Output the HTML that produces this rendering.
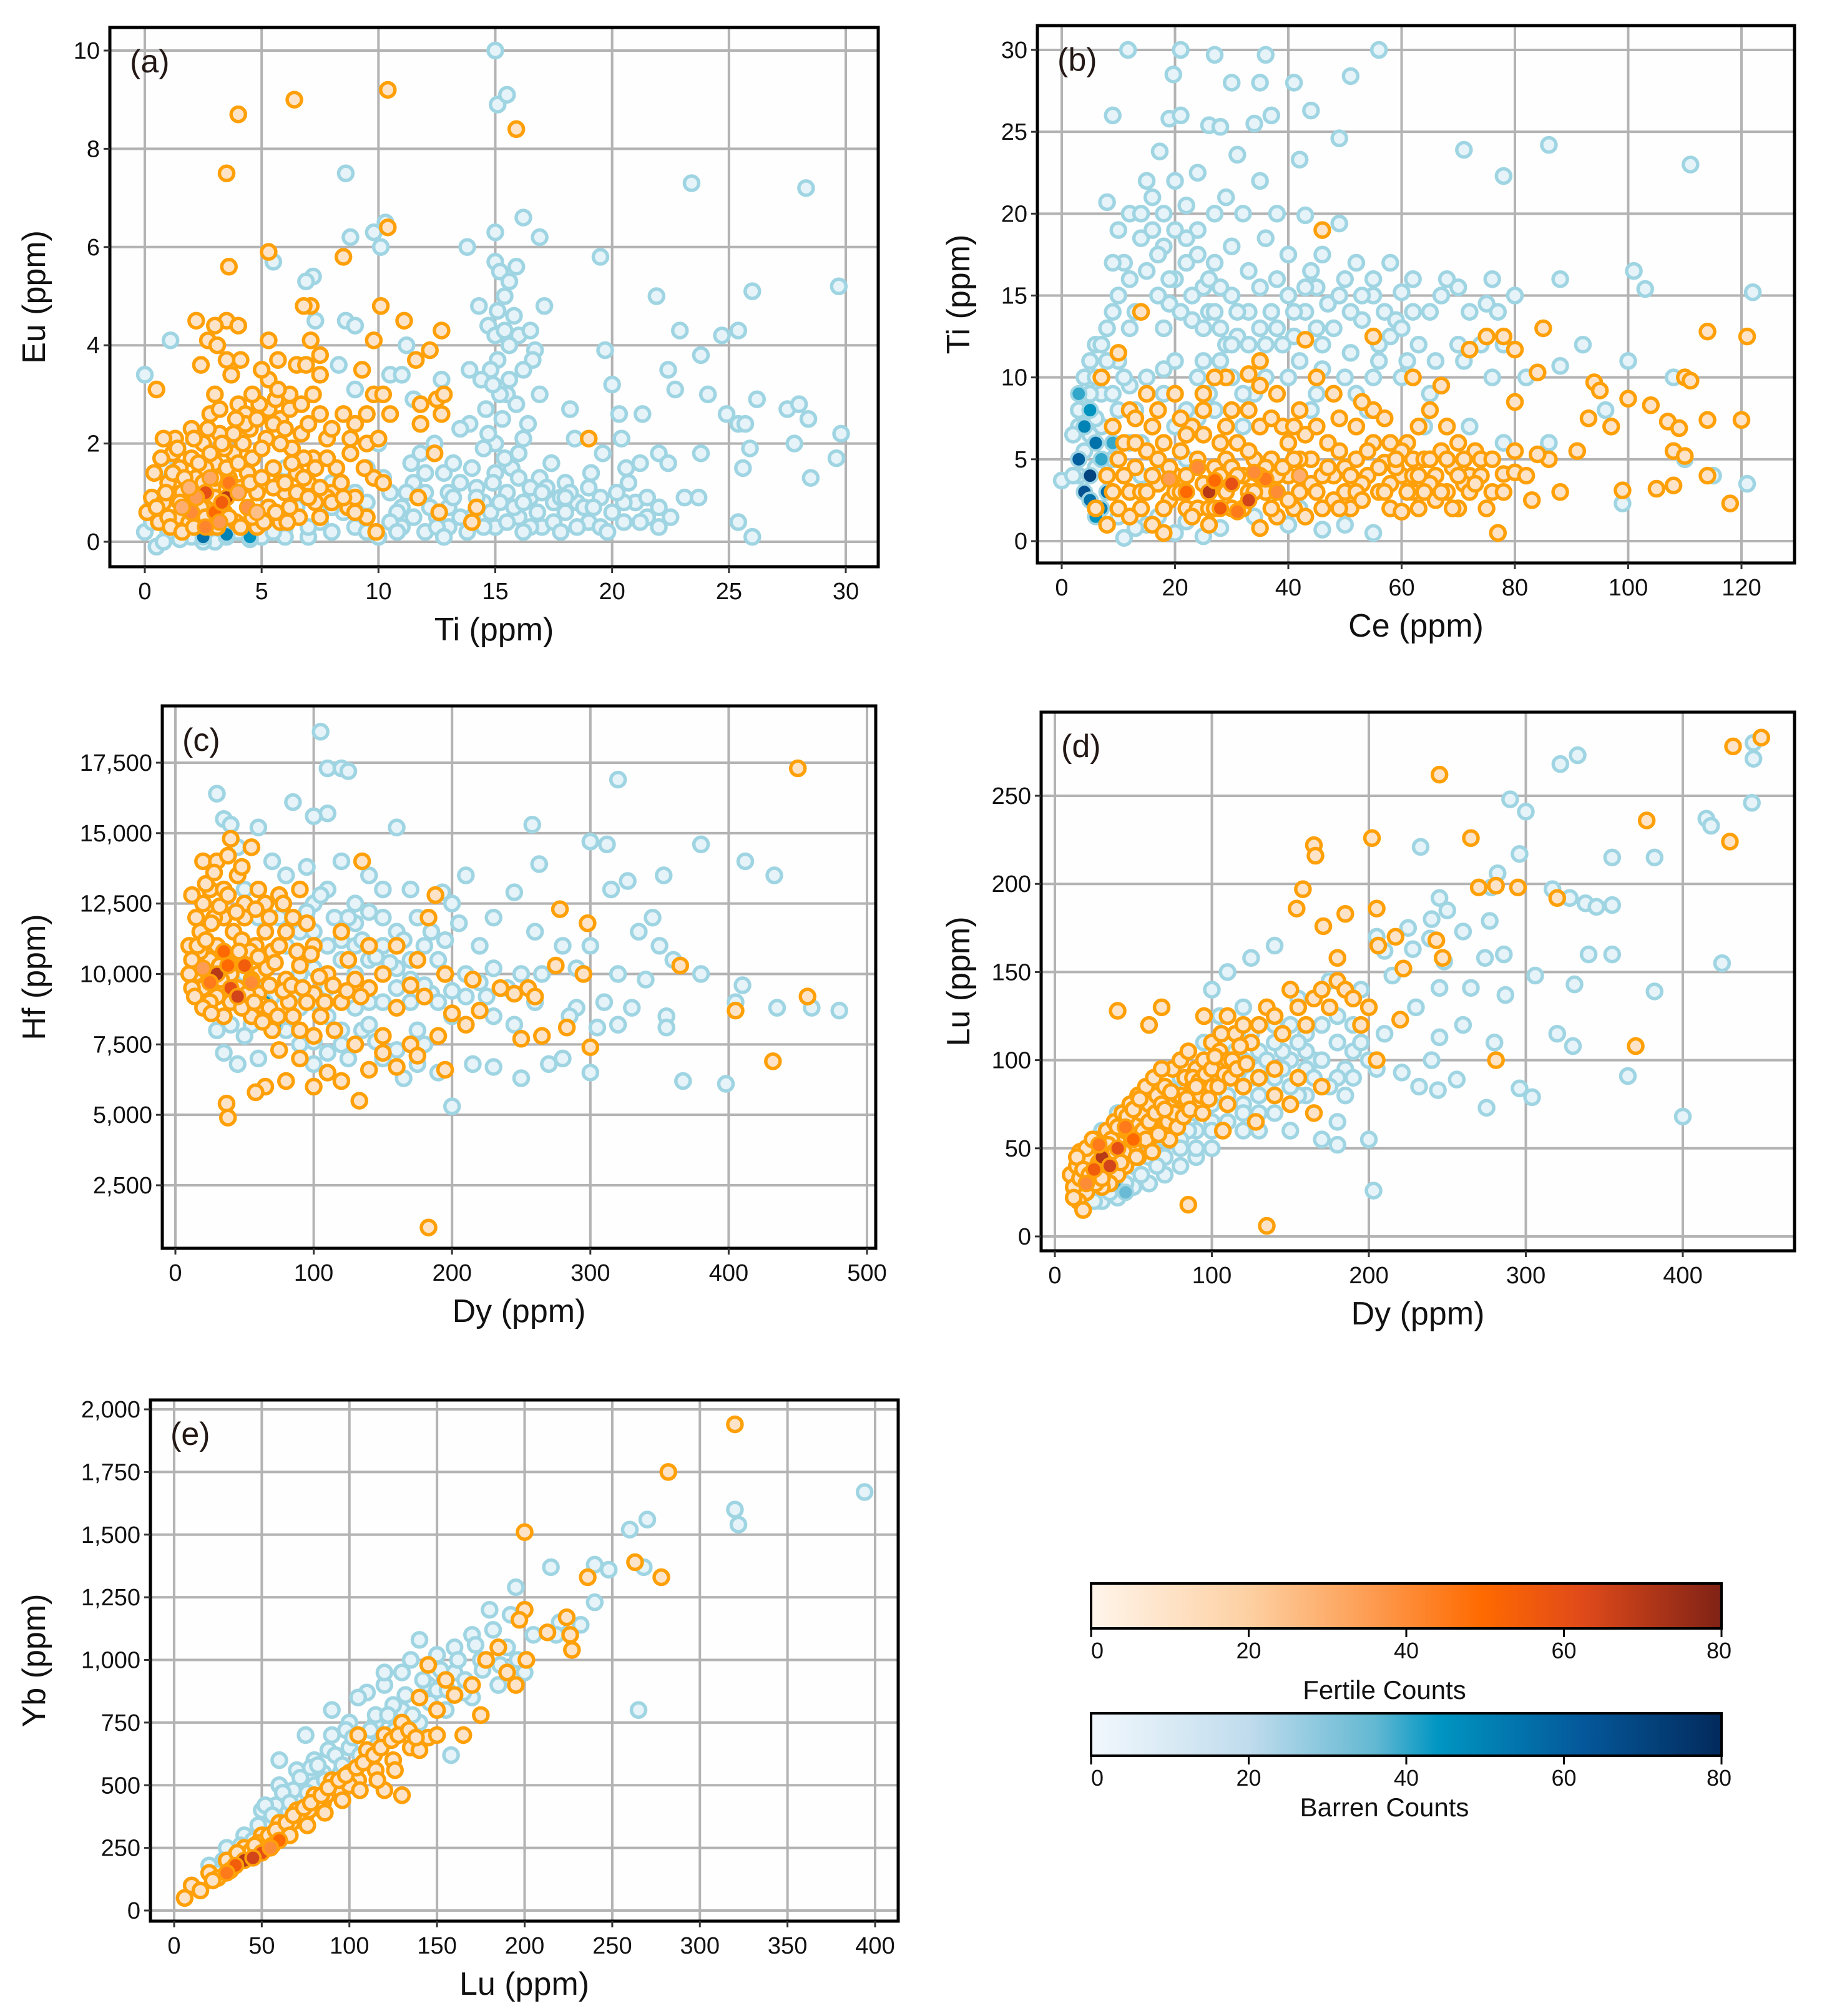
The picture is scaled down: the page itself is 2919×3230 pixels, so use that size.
<!DOCTYPE html>
<html><head><meta charset="utf-8">
<style>
html,body{margin:0;padding:0;background:#fff;}
svg{display:block;}
text{font-family:"Liberation Sans Narrow","Liberation Sans",sans-serif;}
.ax{font-family:"Liberation Sans",sans-serif;}
</style></head>
<body>
<svg id="fig" width="2919" height="3230" viewBox="0 0 2919 3230" xmlns="http://www.w3.org/2000/svg">
<defs>
<linearGradient id="gFert" x1="0" x2="1" y1="0" y2="0">
<stop offset="0" stop-color="#fff5eb"/><stop offset="0.25" stop-color="#fdd0a2"/><stop offset="0.45" stop-color="#fd9a4e"/><stop offset="0.62" stop-color="#ff6a00"/><stop offset="0.78" stop-color="#e04a1a"/><stop offset="1" stop-color="#7f2216"/>
</linearGradient>
<linearGradient id="gBarr" x1="0" x2="1" y1="0" y2="0">
<stop offset="0" stop-color="#f2f8fd"/><stop offset="0.25" stop-color="#c0dced"/><stop offset="0.45" stop-color="#63b8d2"/><stop offset="0.55" stop-color="#0096c2"/><stop offset="0.78" stop-color="#04589a"/><stop offset="1" stop-color="#032a5c"/>
</linearGradient>
</defs>
</svg>
<script>
// ---------- data arrays (flat x,y pairs) ----------
const aBarren=[15,10,15.1,8.9,15.5,9.1,8.6,7.5,23.4,7.3,28.3,7.2,16.2,6.6,10.3,6.5,15,6.3,9.8,6.3,10.1,6,8.8,6.2,16.9,6.2,13.8,6,19.5,5.8,5.5,5.7,15,5.7,15.2,5.5,15.6,5.3,7.2,5.4,6.9,5.3,15.9,5.6,29.7,5.2,26,5.1,21.9,5,15.4,5,17.1,4.8,14.3,4.8,7.3,4.5,8.6,4.5,9.0,4.4,14.7,4.4,15.8,4.6,16,4.2,16.5,4.3,25.4,4.3,24.7,4.2,22.9,4.3,23.8,3.8,1.1,4.1,11.2,4.0,15.6,4.0,16.7,3.9,19.7,3.9,0,3.4,8.3,3.6,15.1,3.7,16.6,3.7,14.8,3.5,13.9,3.5,16.2,3.5,22.4,3.5,12.7,3.3,10.5,3.4,11.0,3.4,14.4,3.3,22.7,3.1,20,3.2,16.9,3.0,24.1,3.0,9,3.1,15.5,3.0,11.5,2.9,26.2,2.9,27.5,2.7,28,2.8,20.3,2.6,21.3,2.6,24.9,2.6,25.4,2.4,25.7,2.4,28.4,2.5,18.2,2.7,13.9,2.4,13.5,2.3,16.4,2.4,29.8,2.2,20.4,2.1,19.6,1.8,18.4,2.1,27.8,2.0,25.9,1.9,22,1.8,23.8,1.8,21.2,1.6,22.4,1.6,29.6,1.7,20.6,1.5,25.6,1.5,28.5,1.3,20.7,1.2,23.1,0.9,23.7,0.9,25.4,0.4,26,0.1,0.9,1.5,11.4,1.6,12.8,1.4,14,1.5,15,1.4,16.9,1.3,17.4,1.6,18,1.2,19.1,1.4,14.2,1.1,12,1.0,10.5,1.0,11,0.7,13,0.7,14,0.5,15,0.3,16,0.5,17,0.3,18,0.6,19,0.4,20,0.6,21,0.8,22,0.7,19.5,0.9,18.5,0.8,16.5,0.9,12,0.2,13,0.3,10,0.1,9,0.3,8,0.2,7,0.1,6,0.3,5,0.1,4,0.2,3,0,2,0.1,1,0.2,0,0.2,0.5,-0.1,11,0.3,12.5,0.5,14.5,0.8,15.5,1.0,17.5,0.8,13.5,1.2,10,2.0,9.5,1.5,8,1.2,6,1.5,5,0.5,15,2.0,15.3,2.5,16,1.8,14.5,1.9,15.7,1.5,16.5,1.1,17.8,0.9,18.8,0.7,20.5,0.4,21.5,0.5,12,1.4,11.5,1.2,13,1.0,14.8,0.6,15.8,0.7,16.8,0.6,10.8,0.6,9.5,0.8,8.5,0.6,7.5,0.4,6.5,0.7,
10.5,0.4,11.5,0.5,12.5,0.3,13.5,0.5,14.5,0.3,15.5,0.4,16.5,0.3,17.5,0.4,18.5,0.3,19.5,0.3,20.5,0.8,21.5,0.9,22.5,0.5,10.2,1.3,11.2,1.0,12.2,0.7,13.2,0.9,14.2,0.9,15.2,0.8,16.2,0.8,17.2,1.1,18.2,1.0,19.2,0.7,20.2,1.0,14.9,1.2,15.4,1.7,14.7,2.2,15.2,3.0,15.0,4.2,14.9,3.2,15.6,3.3,15.9,2.8,16.2,2.1,14.6,2.7,15.1,4.7,15.4,4.3,16.0,1.3,17.0,1.0,18.0,0.9,19.0,1.1,11.8,1.8,12.4,2.0,13.2,1.6,9.0,1.0,8.0,0.7,7.0,0.3,6.0,0.1,5.5,0.2,4.5,0.05,3.5,0.1,2.5,0,1.5,0.05,0.3,0.4,0.8,0.0,9.5,0.2,10.8,0.2,12.8,0.1,13.8,0.2,16.2,0.2,17.8,0.2,19.8,0.2,21.2,0.4,22.0,0.3];
const aFertile=[10.4,9.2,6.4,9.0,4,8.7,15.9,8.4,3.5,7.5,3.6,5.6,10.4,6.4,5.3,5.9,8.5,5.8,10.1,4.8,7.1,4.8,6.8,4.8,11.1,4.5,2.2,4.5,3.5,4.5,3,4.4,4,4.4,12.7,4.3,2.7,4.1,5.3,4.1,7.1,4.1,9.8,4.1,12.2,3.9,3.1,4.0,4.1,3.7,5.7,3.7,2.4,3.6,3.5,3.7,6.5,3.6,6.9,3.6,7.5,3.8,11.6,3.7,3.7,3.4,7.5,3.4,9.3,3.5,0.5,3.1,5.3,3.3,6.2,3.0,7.2,3.0,9.8,3.0,10.2,3.0,12.5,2.9,12.8,3.0,3,3.0,11.8,2.8,10.5,2.6,12.7,2.6,8.5,2.6,9.5,2.6,7.5,2.6,4,2.8,4.3,2.6,2.8,2.6,5,2.6,5.8,2.5,11.8,2.4,9,2.4,2,2.3,1.3,2.1,0.8,2.1,19,2.1,12.4,1.8,8.8,2.1,9.5,2.0,10,2.1,7.8,2.1,6.3,1.9,7.2,1.7,8.2,1.5,9.8,1.3,10.2,1.2,11.7,0.9,12.6,0.6,14.2,0.7,14,0.4,9.5,0.5,9.9,0.2,8.7,0.7,7.5,0.5,6.6,0.5,5.8,0.4,4.8,0.3,2.8,0.3,0.1,0.6,0.3,0.9,0.8,0.8,1.5,1.5,2.5,2.0,3.2,2.2,4.5,2.3,5.2,2.1,5.5,1.5,6,1.0,7,1.2,8,1.0,9,0.9,1,1.2,1.8,0.8,2.2,1.3,3,1.6,3.8,1.8,4.4,1.4,4.8,1.0,3.4,0.6,2.4,0.7,1.4,0.5,0.6,0.4,3.9,0.4,5.3,0.7,6.5,1.4,7.8,0.9,2,1.7,1.2,1.8,4.2,2.0,5.5,2.4,6.7,2.2,0.4,1.4,2.9,1.1,3.6,1.3,1.6,1.0,2.6,1.5,3.4,1.9,4.6,1.7,5.8,1.2,6.2,0.7,7.3,0.8,8.4,1.2,4.1,1.1,1.9,0.4,0.9,1.0,3.0,0.9,5.0,1.9,6.0,2.3,6.8,1.7,
0.5,0.7,1.0,0.5,1.5,0.8,2.0,1.0,2.5,1.2,3.0,1.3,3.5,1.5,4.0,1.6,4.5,1.2,5.0,1.3,5.5,1.1,6.0,1.2,6.5,1.0,7.0,0.9,7.5,1.1,8.0,0.8,8.5,0.9,9.0,0.6,1.2,1.4,1.7,1.3,2.3,1.6,2.8,1.8,3.3,2.0,3.8,2.2,4.3,2.4,4.8,2.5,5.3,2.7,5.8,2.0,6.3,1.6,6.8,1.3,7.3,1.5,7.8,1.7,1.1,0.3,1.6,0.2,2.1,0.3,2.6,0.5,3.1,0.3,3.6,0.5,4.1,0.3,4.6,0.5,5.1,0.4,5.6,0.6,6.1,0.4,0.7,1.7,1.4,1.9,2.1,2.1,2.7,2.3,3.9,2.5,4.9,2.8,5.6,2.9,6.2,2.7,7.0,2.4,8.0,2.3,8.8,1.8,9.4,1.5,3.2,2.7,4.6,3.0,5.0,3.5,5.7,3.1,6.7,2.8];
const aDense=[2.6,1.0,60, 3.5,0.9,70, 2.0,0.6,40, 3.0,0.6,50, 3.6,1.2,45, 2.2,0.9,35, 4.4,0.7,38, 2.6,0.3,42, 3.2,0.4,36, 1.6,0.7,30, 2.8,1.3,32, 4.0,1.0,30, 1.9,1.1,28, 3.3,0.8,55, 4.8,0.6,25];
const aDenseB=[2.5,0.1,55, 3.5,0.15,50, 4.5,0.1,45];

const bBarren=[11.7,30,21,30,27,29.7,36,29.7,56,30,19.7,28.5,30,28,35,28,41,28,51,28.4,9,26,19,25.8,21,26,26,25.4,28,25.3,34,25.5,37,26,44,26.3,49,24.6,86,24.2,71,23.9,111,23,17.3,23.8,31,23.6,42,23.3,78,22.3,15,22,20,22,24,22.5,29,21,35,22,8,20.7,12,20,16,21,22,20.5,27,20,32,20,38,20,43,19.9,49,19.4,10,19,14,18.5,18,18,24,19,30,18,36,18.5,40,17.5,46,17.5,52,17,58,17,62,16,68,16,76,16,88,16,101,16.5,103,15.4,122,15.2,11,17,15,16.5,20,16,25,15.5,30,15,35,15.5,40,15,45,15.5,50,16,55,15,60,15.2,65,14,70,15.5,75,14.5,80,15,9,14,13,14,18,13,23,13.5,28,13,33,14,38,13,43,14,48,13,53,13.5,58,12.5,63,12,70,12,74,12,78,12,92,12,100,11,108,10,82,10,88,10.7,96,8,115,4,121,3.5,110,5,99,2.3,6,12,5,11,4,10,7,9,10,11,15,10,20,11,25,11,30,10,35,11,40,10,45,9,50,10,55,10,60,10,65,9,7,7,3,7,2,6.5,14,6,22,8,27,8,32,7,12,3,15,1,20,0.5,25,0.3,11,0.2,8,4,38,3,42,2,50,1,55,0.5,0,3.7,17,4,13,8,9,5,12,16,17,17.5,22,17,27,17,33,16.5,38,16,44,16.5,9,17,12,13,19,14.5,26,14,31,12.5,36,12,41,12.5,46,12,51,11.5,56,11,61,11,66,11,71,11,76,10,8,11,12,9.5,18,9,24,10,34,9,44,8,54,8,64,7,72,7,78,6,86,6,
14,20,16,19,18,20,20,19,22,18.5,24,17.5,26,16,28,15.5,17,15,19,16,21,14,23,15,25,13,27,14,29,12,31,14,33,12,35,13,37,14,39,12,41,14,43,15.5,45,13,47,14.5,49,15,51,14,53,15,55,16,57,14,59,13.5,67,15,72,14,77,14,10,15,8,13,7,12,6,10,5,9,4,8,3,8,6,7.5,5,6.5,4,5.5,3,4,2,4,6,4.5,9,9,10,8,11,10,12,6,14,4,16,7,18,10.5,20,7,22,5,24,7.5,26,9,28,11,30,12,32,9,36,10,42,11,46,10.5,52,9,56,12,60,13,62,14,10,1.5,13,0.8,17,1.5,22,1.2,28,0.8,34,1.5,40,1,46,0.7];
const bFertile=[46,19,114,12.8,121,12.5,85,13,78,12.5,75,12.5,72,11.7,80,11.7,55,12.5,14,14,35,11,43,12.3,84,10.3,62,10,33,10.2,29,10,7,10,10,11.5,80,8.5,94,9.7,95,9.2,110,10,111,9.8,100,8.7,104,8.3,107,7.3,109,6.9,108,5.5,110,5.2,99,3.1,105,3.2,114,4,118,2.3,108,3.4,120,7.4,114,7.4,93,7.5,97,7,91,5.5,88,3,86,5,84,5.3,83,2.5,78,4.1,80,4.2,77,0.5,73,5.5,70,6,68,7,67,9.5,65,8,62,5,58,6,55,8,52,7,48,9,45,10,42,8,40,6,38,9,35,7,30,8,25,9,20,9,15,9,12,8,9,7,8,4,10,5,12,3,14,2,16,1,18,6,20,4,22,2,24,5,26,3,28,6,30,2,32,4,34,5,36,3,38,1.5,40,4,42,3,44,5,46,2,48,4,50,3,52,5,54,4,56,3,58,2,60,4,62,3,64,5,66,4,68,3,70,2,72,4,74,5,76,3,6,2,8,1,18,0.5,26,1,35,0.8,60,1.8,65,3.5,57,4.8,47,6,37,5,27,4.5,17,3.5,11,6,13,4.5,15,5.5,16,7,19,2.5,21,5.5,23,7,25,6.5,29,5,31,6,33,3,39,7,41,2,43,6.5,49,5.5,51,2,53,3.5,55,6,59,4.5,61,6,63,2,67,5.5,69,4.5,71,3.5,
10,2,12,1.5,14,3,16,4,18,2,20,3,22,4,24,2,26,2,28,4,30,4.5,32,2,34,3,36,4.5,38,4,40,2.5,42,5,44,3.5,46,4,48,2.5,50,4.5,52,3,54,5.5,56,4.5,58,3.5,60,5.5,62,4,64,3,66,2.5,68,5,70,4,72,3,74,4,76,5,78,3,80,5.5,82,4,9,3,11,4,13,6,15,3,17,5,19,4.5,21,3,23,1.5,25,3.5,27,2,29,3,31,4,33,5.5,35,4,37,2,39,4.5,41,5,43,1.5,45,3,47,4.5,49,2,51,4,53,2.5,57,3,59,5,61,3,63,4,65,5,67,3,69,2,71,5,73,3.5,75,2,13,7.5,17,8,21,7.5,25,8,29,7,33,8,37,7.5,41,7,45,7,49,7.5,53,8.5,57,7.5,63,7,35,9.5,27,10,22,6.5];
const bDense=[26,3,70, 30,3.5,60, 33,2.5,65, 28,2,55, 22,3,50, 36,3.8,45, 24,4.5,40, 31,1.8,45, 38,3,40, 19,3.8,35, 42,4,30, 27,3.7,50, 34,4.2,40];
const bDenseB=[3,5,60, 5,4,70, 6,6,55, 4,3,65, 7,2,50, 5,8,45, 3,9,40, 8,3,55, 6,1.5,45, 4,7,50, 9,6,40, 5,2.5,55, 7,5,40];

const cBarren=[105,18600,110,17300,120,17300,125,17200,320,16900,85,16100,30,16400,35,15500,40,15300,110,15700,160,15200,258,15300,100,15600,60,15200,300,14700,312,14600,380,14600,412,14000,263,13900,210,13500,353,13500,433,13500,315,13000,327,13300,245,12900,193,12900,70,14000,80,13500,120,14000,140,13500,170,13000,200,12500,230,12000,150,12000,100,12500,60,12000,90,11500,130,11000,180,11000,220,11000,260,11500,280,11000,300,11000,335,11500,345,12000,350,11000,360,10500,340,9800,320,10000,290,10200,250,10000,210,10000,170,10500,130,10000,90,10000,50,10000,40,9000,70,8500,110,8500,140,9000,170,9000,200,8500,230,8500,260,9000,290,8800,310,9000,330,8800,355,8500,380,10000,410,9600,435,8800,460,8800,480,8700,405,9000,320,8200,305,8100,355,8100,270,6800,250,6300,200,5300,230,6700,215,6800,300,6500,367,6200,398,6100,180,7500,150,7000,120,7500,90,7500,60,7000,35,7200,30,8000,45,6800,100,6800,165,6300,190,6500,280,7000,285,8500,265,10000,240,9500,120,9000,25,10000,20,11000,50,13000,80,11000,110,13000,130,12500,150,13000,160,11500,190,10500,205,11800,225,9200,245,8200,175,8000,160,9500,140,10500,120,11200,100,10200,85,9200,65,9500,55,8200,75,12000,95,13800,45,14500,115,12000,135,8000,185,9300,
100,11500,110,11000,120,10500,130,11800,140,12200,150,11000,160,10200,170,9800,180,9600,190,9000,200,9400,210,9200,220,9700,230,10200,150,9000,140,8200,130,8800,120,8000,110,9500,100,9000,90,8800,80,8000,70,9200,60,8600,50,7800,40,8200,100,7600,110,7200,125,7000,145,7600,160,7300,175,6800,95,12200,105,12800,125,12000,135,11200,145,10600,155,10400,165,11200,175,12000,185,11500,195,11200];
const cFertile=[450,17300,40,14800,55,14500,20,14000,30,14000,45,13500,60,13000,75,12800,90,13000,135,14000,188,12800,183,12000,278,12300,298,11800,20,12500,35,12000,50,12000,65,11500,80,11500,100,11000,120,11500,140,11000,160,11000,175,10500,195,10000,215,9800,235,9500,255,9500,275,10300,295,10000,260,9200,245,9300,365,10300,457,9200,220,8700,200,8600,180,9200,160,8800,140,9500,120,9000,100,9300,80,9800,60,10000,40,10000,25,10500,15,10000,20,9500,30,9200,45,9500,55,8500,70,8000,85,8500,100,7800,115,8000,130,7500,150,7800,170,7500,190,7800,210,8200,250,7700,265,7800,300,7400,283,8100,405,8700,432,6900,175,7100,160,6700,140,6600,120,6200,100,6000,80,6200,65,6000,58,5800,37,5400,38,4900,133,5500,183,1000,195,6600,150,7200,110,6500,90,7000,75,7300,10,11000,15,12000,30,11000,50,10500,70,10800,90,10300,110,10000,130,9800,150,10000,170,9600,40,9000,60,9300,10,10000,12,9500,18,11500,25,13000,35,13000,50,12500,65,12500,85,12000,28,12000,42,11500,58,11000,75,11000,95,11800,25,9000,35,8500,48,8800,62,8900,18,10800,32,10300,55,9800,68,9600,82,9000,95,9000,108,9000,125,10500,105,8500,90,8000,
12,10500,16,11000,22,11200,26,11800,32,12400,38,12800,44,12200,48,11200,54,10800,60,10600,66,10200,72,10400,78,9400,84,9600,88,10800,14,9200,20,8800,26,8600,33,9800,39,10400,46,10800,52,9300,57,9000,63,8300,68,8800,74,8500,92,9500,98,10700,104,9900,114,9600,124,9400,134,9200,12,12800,22,13200,28,13600,38,14200,48,13800,58,12300,68,12000,78,12500];
const cDense=[30,10000,70, 40,9500,60, 50,10300,55, 35,10800,50, 45,9200,65, 25,9700,45, 55,9700,40, 20,10200,35, 38,10300,50];
const cDenseB=[65,9000,45, 72,8200,40, 82,9600,35];

const dBarren=[445,280,333,273,322,268,290,248,445,271,415,237,418,233,300,241,444,246,233,221,296,217,355,215,382,215,282,206,245,192,278,198,328,192,317,197,338,189,345,187,355,188,250,185,240,180,225,175,205,170,260,173,277,179,286,160,210,162,228,163,239,169,248,156,274,158,306,148,331,143,340,160,355,160,425,155,382,139,265,141,287,137,245,141,215,148,195,140,175,145,155,135,140,165,125,158,110,150,100,140,120,130,140,120,160,115,180,110,210,115,245,113,320,115,330,108,365,91,400,68,296,84,304,79,275,73,256,89,244,83,232,85,221,93,200,100,205,95,200,55,203,26,150,100,130,105,110,110,90,95,80,90,70,85,60,80,50,75,40,70,30,60,25,50,20,40,15,30,20,25,30,20,40,22,50,28,60,30,70,35,80,40,90,45,100,50,120,60,140,70,160,80,180,65,170,55,150,60,130,70,110,80,100,65,90,60,80,70,70,55,60,45,50,40,45,60,35,35,180,52,240,100,260,120,280,110,230,130,190,120,105,125,125,115,145,105,165,100,185,95,115,90,135,85,155,80,95,80,85,60,75,75,65,70,55,55,45,45,35,50,25,30,30,40,40,35,
110,95,120,100,130,95,140,110,150,120,160,105,170,120,180,125,190,105,120,75,130,80,140,90,150,85,160,95,170,100,180,90,190,90,100,100,95,110,105,90,115,105,125,90,135,100,145,95,155,110,165,90,175,85,185,80,195,110,60,65,70,60,80,55,90,50,100,60,110,65,120,70,130,60,30,35,40,45,50,50,60,55,70,45,80,50,90,70,100,75,25,20,35,25,45,30,55,35,65,40];
const dFertile=[450,283,432,278,245,262,165,222,166,216,202,226,265,226,377,236,430,224,158,197,171,176,185,183,154,186,205,186,270,198,281,199,295,198,320,192,206,165,217,170,222,152,243,168,247,158,180,158,205,100,220,123,281,100,370,108,135,6,85,18,10,35,20,30,25,40,30,50,35,45,40,55,45,60,50,65,55,70,60,75,65,80,70,85,75,95,80,100,85,105,90,95,95,100,100,110,105,105,110,100,115,115,120,120,125,110,130,120,135,130,140,125,145,115,150,140,155,130,160,120,165,135,170,140,175,130,180,145,185,140,190,135,195,120,200,130,40,128,60,120,68,130,95,125,110,75,120,85,130,90,100,85,90,75,80,70,70,65,60,55,50,50,45,40,40,35,35,30,30,28,25,35,20,25,15,20,18,15,140,95,155,90,170,85,165,70,150,75,140,80,128,65,107,60,12,28,14,40,16,48,22,45,28,55,33,60,38,65,43,70,48,75,53,80,58,85,63,90,68,95,73,75,78,80,83,90,88,85,93,80,103,95,113,100,63,60,53,45,73,55,
12,22,16,33,20,50,24,55,28,42,32,38,36,55,40,62,44,48,48,58,52,45,56,60,60,65,64,70,68,75,72,65,76,70,80,80,84,78,88,90,92,88,96,92,100,95,104,85,108,92,112,90,116,95,14,45,18,38,22,35,26,30,30,33,34,52,38,48,42,42,46,68,50,72,54,78,58,55,62,48,66,58,70,72,74,82,78,62,82,68,86,72,90,85,94,70,98,78,102,102,106,115,110,125,118,108,122,98];
const dDense=[30,45,70, 40,50,60, 25,38,55, 50,55,50, 35,40,65, 45,62,45, 20,30,40, 28,52,45];
const dDenseB=[38,30,40, 45,25,35];

const eBarren=[394,1670,320,1600,322,1540,270,1560,260,1520,268,1370,265,800,248,1360,240,1380,240,1230,215,1370,200,1200,195,1290,180,1200,170,1100,160,1050,150,1020,140,1080,130,950,120,900,110,870,100,750,90,700,80,600,70,560,60,500,50,400,40,300,30,250,20,180,10,100,70,450,85,550,100,650,115,750,130,800,145,900,160,950,175,1000,190,1050,205,1100,220,1150,232,1140,218,1100,200,950,185,900,170,850,158,620,155,800,140,750,125,700,110,600,95,550,80,500,65,400,55,350,45,280,35,220,25,150,60,600,75,700,90,800,105,850,120,950,135,1000,165,870,150,880,125,820,115,780,98,720,88,640,78,570,68,480,58,420,48,340,38,260,28,200,
52,420,62,470,72,530,82,580,92,620,102,690,112,720,122,780,132,860,142,920,152,960,162,1000,172,1060,182,1120,192,1180,56,380,66,430,76,470,86,520,96,580,106,620,116,660,126,720,136,780,146,830,156,880,166,920,176,960,186,980,196,1000];
const eFertile=[320,1940,282,1750,200,1510,278,1330,263,1390,236,1330,224,1170,226,1100,227,1040,213,1110,200,1200,197,1160,201,1000,190,950,185,1050,178,1000,170,900,160,860,150,800,140,850,145,980,155,920,130,750,120,700,110,640,100,550,90,520,80,460,70,400,60,350,50,300,40,250,30,200,20,150,10,100,6,50,15,80,25,130,35,180,45,230,55,280,65,330,75,380,85,430,95,480,105,520,115,560,125,600,135,650,165,700,175,780,195,900,105,700,100,500,120,480,130,460,42,220,52,270,62,310,72,360,82,410,47,250,57,290,67,350,77,400,87,460,32,160,22,120,
38,210,44,240,48,270,54,300,58,320,64,350,68,380,74,410,78,430,84,460,88,490,94,520,98,540,104,570,108,590,114,620,118,650,124,680,128,700,134,720,36,230,46,260,56,260,66,300,76,340,86,390,96,440,106,480,116,520,126,560,140,640,145,690,150,700,138,690];
const eDense=[40,200,70, 50,230,60, 35,180,55, 60,280,50, 45,210,65, 30,150,45, 55,250,40];
const eDenseB=[];

const aXTicks=[0,5,10,15,20,25,30], aYTicks=[0,2,4,6,8,10];
const bXTicks=[0,20,40,60,80,100,120], bYTicks=[0,5,10,15,20,25,30];
const cXTicks=[0,100,200,300,400,500], cYTicks=[2500,5000,7500,10000,12500,15000,17500];
const dXTicks=[0,100,200,300,400], dYTicks=[0,50,100,150,200,250];
const eXTicks=[0,50,100,150,200,250,300,350,400], eYTicks=[0,250,500,750,1000,1250,1500,1750,2000];
const cbTicks=[0,20,40,60,80];

// ---------- rendering ----------
const NS='http://www.w3.org/2000/svg';
const svg=document.getElementById('fig');
function el(tag,attrs,parent){const e=document.createElementNS(NS,tag);for(const k in attrs)e.setAttribute(k,attrs[k]);(parent||svg).appendChild(e);return e;}
const fertStops=[[0,[255,245,235]],[0.25,[253,208,162]],[0.45,[253,154,78]],[0.62,[255,106,0]],[0.78,[224,74,26]],[1,[127,34,22]]];
const barrStops=[[0,[242,248,253]],[0.25,[192,220,237]],[0.45,[99,184,210]],[0.55,[0,150,194]],[0.78,[4,88,154]],[1,[3,42,92]]];
function cmap(stops,v){v=Math.max(0,Math.min(1,v));for(let i=1;i<stops.length;i++){if(v<=stops[i][0]){const a=stops[i-1],b=stops[i];const t=(v-a[0])/(b[0]-a[0]);return 'rgb('+a[1].map((c,j)=>Math.round(c+(b[1][j]-c)*t)).join(',')+')';}}return 'rgb(127,34,22)';}
function fmt(v){return v.toLocaleString('en-US');}

const panels=[
 {id:'a',L:176,R:1407,T:44,B:908,xp:[232,1355],xv:[0,30],yp:[868,81],yv:[0,10],xt:aXTicks,yt:aYTicks,xl:'Ti (ppm)',yl:'Eu (ppm)',lab:'(a)',bar:aBarren,fer:aFertile,den:aDense,denB:aDenseB,ylx:72},
 {id:'b',L:1662,R:2875,T:41,B:902,xp:[1701,2790],xv:[0,120],yp:[867,80],yv:[0,30],xt:bXTicks,yt:bYTicks,xl:'Ce (ppm)',yl:'Ti (ppm)',lab:'(b)',bar:bBarren,fer:bFertile,den:bDense,denB:bDenseB,ylx:1553},
 {id:'c',L:260,R:1403,T:1131,B:2000,xp:[281,1389],xv:[0,500],yp:[1899,1222],yv:[2500,17500],xt:cXTicks,yt:cYTicks,xl:'Dy (ppm)',yl:'Hf (ppm)',lab:'(c)',bar:cBarren,fer:cFertile,den:cDense,denB:cDenseB,ylx:72},
 {id:'d',L:1668,R:2875,T:1141,B:2004,xp:[1690,2696],xv:[0,400],yp:[1981,1275],yv:[0,250],xt:dXTicks,yt:dYTicks,xl:'Dy (ppm)',yl:'Lu (ppm)',lab:'(d)',bar:dBarren,fer:dFertile,den:dDense,denB:dDenseB,ylx:1553},
 {id:'e',L:241,R:1439,T:2243,B:3078,xp:[279,1402],xv:[0,400],yp:[3061,2258],yv:[0,2000],xt:eXTicks,yt:eYTicks,xl:'Lu (ppm)',yl:'Yb (ppm)',lab:'(e)',bar:eBarren,fer:eFertile,den:eDense,denB:eDenseB,ylx:72}
];

panels.forEach(p=>{
 const sx=v=>p.xp[0]+(v-p.xv[0])/(p.xv[1]-p.xv[0])*(p.xp[1]-p.xp[0]);
 const sy=v=>p.yp[0]+(v-p.yv[0])/(p.yv[1]-p.yv[0])*(p.yp[1]-p.yp[0]);
 const g=el('g',{});
 
 
 const cid='clip'+p.id;
 const cp=el('clipPath',{id:cid},g);el('rect',{x:p.L,y:p.T,width:p.R-p.L,height:p.B-p.T},cp);
 el('rect',{x:p.L,y:p.T,width:p.R-p.L,height:p.B-p.T,fill:'#fefefe'},g);
 const grid=el('g',{stroke:'#b3b3b3','stroke-width':4},g);
 
 
 p.xt.forEach(t=>{const x=sx(t);el('line',{x1:x,x2:x,y1:p.T,y2:p.B},grid);});
 p.yt.forEach(t=>{const y=sy(t);el('line',{x1:p.L,x2:p.R,y1:y,y2:y},grid);});
 const pts=el('g',{'clip-path':'url(#'+cid+')'},g);
 
 
 for(let i=0;i<p.bar.length;i+=2){
  const c=el('circle',{cx:sx(p.bar[i]),cy:sy(p.bar[i+1]),r:11.5,fill:'#e6f3f8',stroke:'#9fd5e3','stroke-width':5.5},pts);
  
  
 }
 for(let i=0;i<p.denB.length;i+=3){
  const c=el('circle',{cx:sx(p.denB[i]),cy:sy(p.denB[i+1]),r:12,fill:cmap(barrStops,p.denB[i+2]/80),stroke:'#9fd5e3','stroke-width':4},pts);
  
  
 }
 for(let i=0;i<p.fer.length;i+=2){
  const c=el('circle',{cx:sx(p.fer[i]),cy:sy(p.fer[i+1]),r:11.5,fill:'#fde3c8',stroke:'#ffa008','stroke-width':5.5},pts);
  
  
 }
 for(let i=0;i<p.den.length;i+=3){
  const c=el('circle',{cx:sx(p.den[i]),cy:sy(p.den[i+1]),r:12,fill:cmap(fertStops,p.den[i+2]/80),stroke:'#ffa008','stroke-width':4},pts);
  
  
 }
 el('rect',{x:p.L,y:p.T,width:p.R-p.L,height:p.B-p.T,fill:'none',stroke:'#000','stroke-width':5},g);
 p.xt.forEach(t=>{const x=sx(t);el('line',{x1:x,x2:x,y1:p.B,y2:p.B+10,stroke:'#333','stroke-width':3},g);
  const tx=el('text',{x:x,y:p.B+52,'font-size':38,'text-anchor':'middle',fill:'#111'},g);tx.textContent=fmt(t);
  
  });
 p.yt.forEach(t=>{const y=sy(t);el('line',{x1:p.L-10,x2:p.L,y1:y,y2:y,stroke:'#333','stroke-width':3},g);
  const tx=el('text',{x:p.L-16,y:y+13,'font-size':38,'text-anchor':'end',fill:'#111'},g);tx.textContent=fmt(t);
  
  });
 const xl=el('text',{x:(p.L+p.R)/2,y:p.B+118,'font-size':52,'text-anchor':'middle',fill:'#111',class:'ax'},g);xl.textContent=p.xl;
 
 
 const cy=(p.T+p.B)/2;
 const yl=el('text',{x:p.ylx,y:cy,'font-size':52,'text-anchor':'middle',fill:'#111',class:'ax',transform:'rotate(-90 '+p.ylx+' '+cy+')'},g);yl.textContent=p.yl;
 
 
 const lb=el('text',{x:p.L+32,y:p.T+72,'font-size':52,fill:'#231815',class:'ax'},g);lb.textContent=p.lab;
 
 
});

// colorbars
[[2537,2609,'url(#gFert)','Fertile Counts','fertile-colorbar',2722],[2745,2813,'url(#gBarr)','Barren Counts','barren-colorbar',2910]].forEach(c=>{
 const g=el('g',{});
 
 
 const L=1748,R=2758;
 el('rect',{x:L,y:c[0],width:R-L,height:c[1]-c[0],fill:c[2],stroke:'#000','stroke-width':4},g);
 cbTicks.forEach(t=>{const x=L+t/80*(R-L);el('line',{x1:x,x2:x,y1:c[1],y2:c[1]+14,stroke:'#000','stroke-width':3},g);
  const tx=el('text',{x:x+(t===0?10:(t===80?-4:0)),y:c[1]+48,'font-size':36,'text-anchor':'middle',fill:'#111'},g);tx.textContent=t;
  
  });
 const tt=el('text',{x:2218,y:c[5],'font-size':42,'text-anchor':'middle',fill:'#111'},g);tt.textContent=c[3];
 
 
});
</script>
</body></html>
